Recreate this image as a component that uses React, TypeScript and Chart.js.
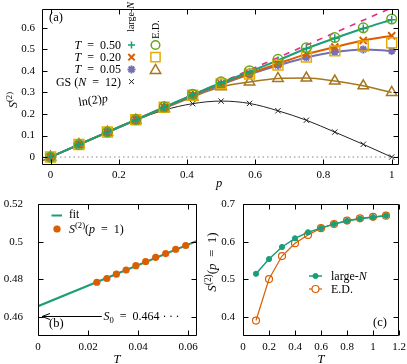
import React, { useEffect, useRef } from 'react';
import { Chart, registerables } from 'chart.js';
Chart.register(...registerables);

const W = 407;
const H = 364;
const FONT = '"Liberation Serif", "DejaVu Serif", serif';
const TEAL = '#1b9e77';
const ORANGE = '#d95f02';
const PURPLE = '#7570b3';
const MAGENTA = '#e7298a';
const LIME = '#66a61e';
const YELLOW = '#e6ab02';
const BROWN = '#a6761d';

// ---------- Panel (a): S^(2) vs p ----------
const pValues = [0, 0.0833, 0.1667, 0.25, 0.3333, 0.4167, 0.5, 0.5833, 0.6667, 0.75, 0.8333, 0.9167, 1];
const largeN_T050 = [0, 0.058, 0.116, 0.173, 0.231, 0.289, 0.345, 0.396, 0.449, 0.504, 0.552, 0.597, 0.638];
const largeN_T020 = [0, 0.058, 0.116, 0.173, 0.231, 0.287, 0.341, 0.388, 0.434, 0.478, 0.511, 0.541, 0.563];
const largeN_T005 = [0, 0.058, 0.115, 0.172, 0.229, 0.284, 0.336, 0.384, 0.425, 0.462, 0.488, 0.5, 0.493];
const ed_T050 = [0, 0.058, 0.116, 0.174, 0.233, 0.292, 0.349, 0.401, 0.454, 0.508, 0.555, 0.6, 0.641];
const ed_T020 = [0, 0.058, 0.116, 0.173, 0.231, 0.287, 0.34, 0.385, 0.427, 0.464, 0.493, 0.516, 0.531];
const ed_T005 = [0, 0.058, 0.115, 0.171, 0.226, 0.279, 0.326, 0.349, 0.365, 0.367, 0.353, 0.331, 0.3];
const gsN12 = [0, 0.059, 0.116, 0.172, 0.218, 0.248, 0.26, 0.249, 0.215, 0.171, 0.116, 0.059, 0];
const ln2Line_p = [-0.025, 1.02];
const ln2Line_S = [-0.0173, 0.707];
const zeroLine_p = [-0.025, 1.02];
const zeroLine_S = [0, 0];
const aXTicks = [0, 0.2, 0.4, 0.6, 0.8, 1];
const aYTicks = [0, 0.1, 0.2, 0.3, 0.4, 0.5, 0.6];

// ---------- Panel (b): S^(2)(p=1) vs T, low T ----------
const bT = [0.0235, 0.0275, 0.0313, 0.0352, 0.0391, 0.043, 0.047, 0.051, 0.055, 0.059];
const bS = [0.4785, 0.4805, 0.4828, 0.485, 0.4873, 0.4895, 0.4917, 0.4937, 0.496, 0.498];
const fitT = [0, 0.0635];
const fitS = [0.4658, 0.5004];
const bXTicks = [0, 0.02, 0.04, 0.06];
const bYTicks = [0.46, 0.48, 0.5, 0.52];

// ---------- Panel (c): S^(2)(p=1) vs T ----------
const cT = [0.1, 0.2, 0.3, 0.4, 0.5, 0.6, 0.7, 0.8, 0.9, 1.0, 1.1];
const cLargeN = [0.515, 0.554, 0.586, 0.609, 0.625, 0.636, 0.647, 0.655, 0.661, 0.665, 0.669];
const cED = [0.391, 0.501, 0.562, 0.596, 0.618, 0.636, 0.647, 0.656, 0.662, 0.666, 0.669];
const cXTicks = [0, 0.2, 0.4, 0.6, 0.8, 1, 1.2];
const cYTicks = [0.4, 0.5, 0.6, 0.7];

type Seg = { t: string; i?: boolean; sup?: boolean; sub?: boolean };

function pts(xs: number[], ys: number[]) {
  return xs.map((x, k) => ({ x, y: ys[k] }));
}

function rich(ctx: any, segs: Seg[], x: number, y: number, size: number, align: string, angle = 0, color = '#000') {
  ctx.save();
  ctx.translate(x, y);
  ctx.rotate(angle);
  ctx.fillStyle = color;
  ctx.textBaseline = 'alphabetic';
  const fontOf = (s: Seg) => `${s.i ? 'italic ' : ''}${s.sup || s.sub ? size * 0.72 : size}px ${FONT}`;
  let total = 0;
  const widths = segs.map((s) => {
    ctx.font = fontOf(s);
    const w = ctx.measureText(s.t).width;
    total += w;
    return w;
  });
  let cx = align === 'left' ? 0 : align === 'right' ? -total : -total / 2;
  const base = size * 0.33;
  segs.forEach((s, k) => {
    ctx.font = fontOf(s);
    const dy = s.sup ? -size * 0.4 : s.sub ? size * 0.22 : 0;
    ctx.fillText(s.t, cx, base + dy);
    cx += widths[k];
  });
  ctx.restore();
}

function marker(ctx: any, kind: string, x: number, y: number, r: number, color: string, lw: number, fill = false) {
  ctx.save();
  ctx.strokeStyle = color;
  ctx.fillStyle = color;
  ctx.lineWidth = lw;
  ctx.beginPath();
  const d = r * Math.SQRT1_2;
  if (kind === 'cross' || kind === 'star') {
    ctx.moveTo(x - r, y); ctx.lineTo(x + r, y);
    ctx.moveTo(x, y - r); ctx.lineTo(x, y + r);
  }
  if (kind === 'crossRot' || kind === 'star') {
    ctx.moveTo(x - d, y - d); ctx.lineTo(x + d, y + d);
    ctx.moveTo(x - d, y + d); ctx.lineTo(x + d, y - d);
  }
  if (kind === 'circle') ctx.arc(x, y, r, 0, Math.PI * 2);
  if (kind === 'rect') ctx.rect(x - d, y - d, 2 * d, 2 * d);
  if (kind === 'triangle') {
    ctx.moveTo(x, y - r);
    ctx.lineTo(x + 0.866 * r, y + 0.5 * r);
    ctx.lineTo(x - 0.866 * r, y + 0.5 * r);
    ctx.closePath();
  }
  if (fill) ctx.fill();
  ctx.stroke();
  ctx.restore();
}

function frame(chart: any, xt: number[], yt: number[]) {
  const { ctx, chartArea: a, scales } = chart;
  ctx.save();
  ctx.strokeStyle = '#000';
  ctx.lineWidth = 1;
  const L = Math.round(a.left) + 0.5;
  const R = Math.round(a.right) - 0.5;
  const T = Math.round(a.top) + 0.5;
  const B = Math.round(a.bottom) - 0.5;
  ctx.beginPath();
  ctx.rect(L, T, R - L, B - T);
  const tl = 5;
  xt.forEach((v) => {
    const px = Math.round(scales.x.getPixelForValue(v)) + 0.5;
    ctx.moveTo(px, B); ctx.lineTo(px, B - tl);
    ctx.moveTo(px, T); ctx.lineTo(px, T + tl);
  });
  yt.forEach((v) => {
    const py = Math.round(scales.y.getPixelForValue(v)) + 0.5;
    ctx.moveTo(L, py); ctx.lineTo(L + tl, py);
    ctx.moveTo(R, py); ctx.lineTo(R - tl, py);
  });
  ctx.stroke();
  ctx.restore();
}

function axis(min: number, max: number, ticks: number[], pad: number, size: number, isX: boolean) {
  return {
    type: 'linear',
    min,
    max,
    bounds: 'data',
    grid: { display: false, drawTicks: false },
    border: { display: false },
    ticks: {
      padding: pad,
      font: { family: FONT, size: 11 },
      color: '#000',
      maxRotation: 0,
      autoSkip: false,
      callback: (v: any) => String(v),
    },
    afterBuildTicks: (s: any) => {
      s.ticks = ticks.map((v) => ({ value: v }));
    },
    afterFit: (s: any) => {
      if (isX) s.height = size;
      else s.width = size;
      s.paddingTop = 0;
      s.paddingBottom = 0;
      s.paddingLeft = 0;
      s.paddingRight = 0;
    },
  };
}

function baseOptions(padding: any, x: any, y: any) {
  return {
    responsive: false,
    animation: false,
    events: [],
    layout: { padding },
    plugins: { legend: { display: false }, tooltip: { enabled: false } },
    scales: { x, y },
  };
}

function cfgA(): any {
  const ds = (xs: number[], ys: number[], o: any) => ({ data: pts(xs, ys), ...o });
  const bottomToTop = [
    ds(zeroLine_p, zeroLine_S, { showLine: true, borderColor: '#8a8a8a', borderWidth: 1, borderDash: [1.5, 3], pointRadius: 0 }),
    ds(ln2Line_p, ln2Line_S, { showLine: true, borderColor: MAGENTA, borderWidth: 1.6, borderDash: [6, 6], pointRadius: 0 }),
    ds(pValues, gsN12, { showLine: true, borderColor: '#222', borderWidth: 1, cubicInterpolationMode: 'monotone', pointStyle: 'crossRot', pointRadius: 3.8, pointBorderWidth: 1, backgroundColor: 'transparent' }),
    ds(pValues, ed_T005, { showLine: true, borderColor: BROWN, borderWidth: 1.5, cubicInterpolationMode: 'monotone', pointStyle: 'triangle', pointRadius: 6, pointBorderWidth: 1.5, backgroundColor: 'transparent' }),
    ds(pValues, largeN_T005, { showLine: true, borderColor: PURPLE, borderWidth: 2, cubicInterpolationMode: 'monotone', pointStyle: 'star', pointRadius: 4, pointBorderWidth: 2, backgroundColor: 'transparent' }),
    ds(pValues, largeN_T020, { showLine: true, borderColor: ORANGE, borderWidth: 2, cubicInterpolationMode: 'monotone', pointStyle: 'crossRot', pointRadius: 5, pointBorderWidth: 2, backgroundColor: 'transparent' }),
    ds(pValues, largeN_T050, { showLine: true, borderColor: TEAL, borderWidth: 2, cubicInterpolationMode: 'monotone', pointStyle: 'cross', pointRadius: 4, pointBorderWidth: 1.5, backgroundColor: 'transparent' }),
    ds(pValues, ed_T020, { showLine: false, borderColor: YELLOW, pointStyle: 'rect', pointRadius: 7, pointBorderWidth: 1.5, backgroundColor: 'transparent' }),
    ds(pValues, ed_T050, { showLine: false, borderColor: LIME, pointStyle: 'circle', pointRadius: 4.8, pointBorderWidth: 1.5, backgroundColor: 'transparent' }),
  ];
  return {
    type: 'scatter',
    data: { datasets: bottomToTop.slice().reverse() },
    options: baseOptions(
      { left: 0, top: 2, right: 8, bottom: 174 },
      axis(-0.025, 1.02, aXTicks, 4, 25, true),
      axis(-0.037, 0.69, aYTicks, 7, 42, false)
    ),
    plugins: [{
      id: 'decorA',
      afterDraw(chart: any) {
        const ctx = chart.ctx;
        frame(chart, aXTicks, aYTicks);
        rich(ctx, [{ t: 'S', i: true }, { t: '(2)', sup: true }], 13, 100, 12, 'center', -Math.PI / 2);
        rich(ctx, [{ t: 'p', i: true }], 219, 183, 12.5, 'center');
        rich(ctx, [{ t: '(a)' }], 49, 17, 12.5, 'left');
        rich(ctx, [{ t: 'ln(2)' }, { t: 'p', i: true }], 93, 100, 12, 'center', -0.14);
        rich(ctx, [{ t: 'large-' }, { t: 'N', i: true }], 131, 17, 10, 'center', -Math.PI / 2);
        rich(ctx, [{ t: 'E.D.' }], 156, 29.5, 10, 'center', -Math.PI / 2);
        const ys = [45, 57.2, 69.4, 81.6];
        const sp = '\u2002';
        rich(ctx, [{ t: 'T', i: true }, { t: `${sp}=${sp}0.50` }], 121, ys[0], 12, 'right');
        rich(ctx, [{ t: 'T', i: true }, { t: `${sp}=${sp}0.20` }], 121, ys[1], 12, 'right');
        rich(ctx, [{ t: 'T', i: true }, { t: `${sp}=${sp}0.05` }], 121, ys[2], 12, 'right');
        rich(ctx, [{ t: 'GS (' }, { t: 'N', i: true }, { t: `${sp}=${sp}12)` }], 121, ys[3], 12, 'right');
        marker(ctx, 'cross', 131.5, ys[0], 3.5, TEAL, 1.5);
        marker(ctx, 'crossRot', 131.5, ys[1], 4.5, ORANGE, 2);
        marker(ctx, 'star', 131.5, ys[2], 4, PURPLE, 2);
        marker(ctx, 'crossRot', 131.5, ys[3], 3.5, '#222', 1);
        marker(ctx, 'circle', 155.5, ys[0], 4.3, LIME, 1.5);
        marker(ctx, 'rect', 155.5, ys[1], 6.5, YELLOW, 1.5);
        marker(ctx, 'triangle', 155.5, ys[2] + 1, 6, BROWN, 1.5);
      },
    }],
  };
}

function cfgB(): any {
  const datasets = [
    { data: pts(bT, bS), showLine: false, borderColor: ORANGE, backgroundColor: ORANGE, pointStyle: 'circle', pointRadius: 3.6, pointBorderWidth: 0 },
    { data: pts(fitT, fitS), showLine: true, borderColor: TEAL, borderWidth: 2, pointRadius: 0 },
  ];
  const arrowFrom = { x: 0.0255, y: 0.4605 };
  const arrowTo = { x: 0.0016, y: 0.4605 };
  return {
    type: 'scatter',
    data: { datasets },
    options: baseOptions(
      { left: 0, top: 204, right: 210, bottom: 0 },
      axis(0, 0.0635, bXTicks, 5, 28, true),
      axis(0.45, 0.52, bYTicks, 15, 38, false)
    ),
    plugins: [{
      id: 'decorB',
      afterDraw(chart: any) {
        const ctx = chart.ctx;
        const { x: sx, y: sy } = chart.scales;
        frame(chart, bXTicks, bYTicks);
        const x1 = sx.getPixelForValue(arrowFrom.x);
        const x2 = sx.getPixelForValue(arrowTo.x);
        const yy = Math.round(sy.getPixelForValue(arrowFrom.y)) + 0.5;
        ctx.save();
        ctx.strokeStyle = '#000';
        ctx.lineWidth = 1;
        ctx.beginPath();
        ctx.moveTo(x1, yy); ctx.lineTo(x2, yy);
        ctx.moveTo(x2 + 8, yy - 3); ctx.lineTo(x2, yy); ctx.lineTo(x2 + 8, yy + 3);
        ctx.stroke();
        ctx.restore();
        rich(ctx, [{ t: 'S', i: true }, { t: '0', sub: true }, { t: '\u2002=\u20020.464 \u00B7\u2009\u00B7\u2009\u00B7' }], 103.5, yy, 12, 'left');
        rich(ctx, [{ t: '(b)' }], 49, 323, 12.5, 'left');
        ctx.save();
        ctx.strokeStyle = TEAL;
        ctx.lineWidth = 2;
        ctx.beginPath();
        ctx.moveTo(51.5, 215.5); ctx.lineTo(62, 215.5);
        ctx.stroke();
        ctx.restore();
        rich(ctx, [{ t: 'fit' }], 69, 214.5, 11.5, 'left');
        marker(ctx, 'circle', 57, 229, 3.6, ORANGE, 0.1, true);
        rich(ctx, [{ t: 'S', i: true }, { t: '(2)', sup: true }, { t: '(' }, { t: 'p', i: true }, { t: '\u2002=\u20021)' }], 69, 229, 12, 'left');
        rich(ctx, [{ t: 'T', i: true }], 117, 359, 12.5, 'center');
      },
    }],
  };
}

function cfgC(): any {
  const datasets = [
    { data: pts(cT, cLargeN), showLine: true, borderColor: TEAL, backgroundColor: TEAL, borderWidth: 1.5, pointStyle: 'circle', pointRadius: 2.6, pointBorderWidth: 1 },
    { data: pts(cT, cED), showLine: true, borderColor: ORANGE, backgroundColor: 'transparent', borderWidth: 1.2, pointStyle: 'circle', pointRadius: 3.5, pointBorderWidth: 1.2 },
  ];
  return {
    type: 'scatter',
    data: { datasets },
    options: baseOptions(
      { left: 200, top: 204, right: 8, bottom: 0 },
      axis(0, 1.2, cXTicks, 5, 28, true),
      axis(0.35, 0.7, cYTicks, 8, 43, false)
    ),
    plugins: [{
      id: 'decorC',
      afterDraw(chart: any) {
        const ctx = chart.ctx;
        frame(chart, cXTicks, cYTicks);
        rich(ctx, [{ t: 'S', i: true }, { t: '(2)', sup: true }, { t: '(' }, { t: 'p', i: true }, { t: '\u2002=\u20021)' }], 212, 262, 13, 'center', -Math.PI / 2);
        rich(ctx, [{ t: 'T', i: true }], 321, 359, 12.5, 'center');
        rich(ctx, [{ t: '(c)' }], 380, 322, 12.5, 'center');
        ctx.save();
        ctx.lineWidth = 1.5;
        ctx.strokeStyle = TEAL;
        ctx.beginPath(); ctx.moveTo(309, 276); ctx.lineTo(322, 276); ctx.stroke();
        ctx.strokeStyle = ORANGE;
        ctx.lineWidth = 1.2;
        ctx.beginPath(); ctx.moveTo(309, 289); ctx.lineTo(322, 289); ctx.stroke();
        ctx.restore();
        marker(ctx, 'circle', 315.5, 276, 2.6, TEAL, 1, true);
        ctx.save();
        ctx.fillStyle = '#fff';
        ctx.beginPath(); ctx.arc(315.5, 289, 3.5, 0, Math.PI * 2); ctx.fill();
        ctx.restore();
        marker(ctx, 'circle', 315.5, 289, 3.5, ORANGE, 1.2);
        rich(ctx, [{ t: 'large-' }, { t: 'N', i: true }], 331, 276, 12, 'left');
        rich(ctx, [{ t: 'E.D.' }], 331, 289, 12, 'left');
      },
    }],
  };
}

export default function App() {
  const ra = useRef<HTMLCanvasElement>(null);
  const rb = useRef<HTMLCanvasElement>(null);
  const rc = useRef<HTMLCanvasElement>(null);
  useEffect(() => {
    const charts = [
      new Chart(ra.current as HTMLCanvasElement, cfgA()),
      new Chart(rb.current as HTMLCanvasElement, cfgB()),
      new Chart(rc.current as HTMLCanvasElement, cfgC()),
    ];
    return () => charts.forEach((c) => c.destroy());
  }, []);
  const st: React.CSSProperties = { position: 'absolute', left: 0, top: 0, width: W, height: H };
  return (
    <div style={{ position: 'absolute', left: 0, top: 0, width: W, height: H, background: '#fff' }}>
      <canvas ref={ra} width={W} height={H} style={st} />
      <canvas ref={rb} width={W} height={H} style={st} />
      <canvas ref={rc} width={W} height={H} style={st} />
    </div>
  );
}
